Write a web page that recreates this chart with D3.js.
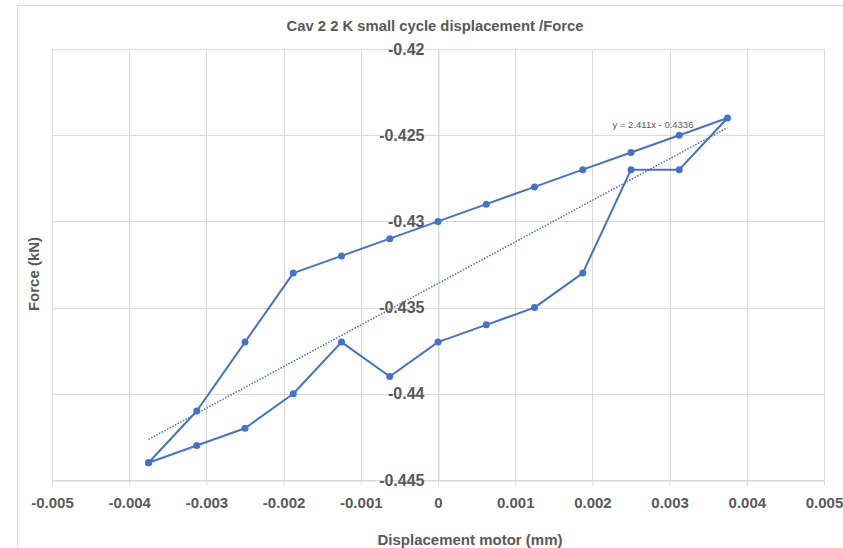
<!DOCTYPE html>
<html>
<head>
<meta charset="utf-8">
<script src="https://cdn.jsdelivr.net/npm/d3@7"></script>
<style>
  body { margin: 0; background: #fff; }
  svg { display: block; font-family: "Liberation Sans", Arial, sans-serif; }
</style>
</head>
<body>
<svg width="843" height="548"></svg>
<script>
// chart data
var displacement = [-0.00375, -0.003125, -0.0025, -0.001875, -0.00125, -0.000625, 0,
                    0.000625, 0.00125, 0.001875, 0.0025, 0.003125, 0.00375,
                    0.003125, 0.0025, 0.001875, 0.00125, 0.000625, 0,
                    -0.000625, -0.00125, -0.001875, -0.0025, -0.003125, -0.00375];
var force = [-0.444, -0.441, -0.437, -0.433, -0.432, -0.431, -0.430,
             -0.429, -0.428, -0.427, -0.426, -0.425, -0.424,
             -0.427, -0.427, -0.433, -0.435, -0.436, -0.437,
             -0.439, -0.437, -0.440, -0.442, -0.443, -0.444];
var xTicks = [-0.005, -0.004, -0.003, -0.002, -0.001, 0, 0.001, 0.002, 0.003, 0.004, 0.005];
var xTickLabels = ["-0.005", "-0.004", "-0.003", "-0.002", "-0.001", "0", "0.001", "0.002", "0.003", "0.004", "0.005"];
var yTicks = [-0.42, -0.425, -0.43, -0.435, -0.44, -0.445];
var yTickLabels = ["-0.42", "-0.425", "-0.43", "-0.435", "-0.44", "-0.445"];
var trendSlope = 2.411, trendIntercept = -0.4336;
var trendLabel = "y = 2.411x - 0.4336";

var svg = d3.select("svg");
var blue = "#4472c4", grid = "#d9d9d9", txt = "#595959";

// chart frame (runs off the right/bottom edge like the screenshot)
svg.append("rect")
   .attr("x", 17.5).attr("y", 5.5)
   .attr("width", 900).attr("height", 600)
   .attr("fill", "none").attr("stroke", grid);

var x = d3.scaleLinear().domain([-0.005, 0.005]).range([52, 824]),
    y = d3.scaleLinear().domain([-0.445, -0.42]).range([480, 49]);

// gridlines
svg.append("g").selectAll("line")
   .data(xTicks).enter().append("line")
   .attr("x1", function(d) { return Math.round(x(d)) + 0.5; })
   .attr("x2", function(d) { return Math.round(x(d)) + 0.5; })
   .attr("y1", y(-0.42)).attr("y2", y(-0.445))
   .attr("stroke", grid);
svg.append("g").selectAll("line")
   .data(yTicks).enter().append("line")
   .attr("x1", x(-0.005)).attr("x2", x(0.005))
   .attr("y1", function(d) { return Math.round(y(d)) + 0.5; })
   .attr("y2", function(d) { return Math.round(y(d)) + 0.5; })
   .attr("stroke", grid);

// x axis at the bottom
var xAxis = svg.append("g")
   .attr("transform", "translate(0," + (Math.round(y(-0.445)) + 0.5) + ")")
   .call(d3.axisBottom(x).tickValues(xTicks)
           .tickFormat(function(d, i) { return xTickLabels[i]; })
           .tickSizeInner(5).tickSizeOuter(0).tickPadding(12));
xAxis.select(".domain").attr("stroke", grid);
xAxis.selectAll(".tick line").attr("stroke", grid);
xAxis.selectAll("text")
   .attr("fill", txt).attr("font-size", 15).attr("font-weight", "bold")
   .attr("font-family", "Liberation Sans, Arial, sans-serif");

// y axis crossing at x = 0
var yAxis = svg.append("g")
   .attr("transform", "translate(" + (Math.round(x(0)) + 0.5) + ",0)")
   .call(d3.axisLeft(y).tickValues(yTicks)
           .tickFormat(function(d, i) { return yTickLabels[i]; })
           .tickSize(0).tickPadding(14));
yAxis.select(".domain").attr("stroke", grid);
yAxis.selectAll("text")
   .attr("fill", txt).attr("font-size", 16).attr("font-weight", "bold")
   .attr("font-family", "Liberation Sans, Arial, sans-serif");

// trendline
var tx = d3.extent(displacement);
svg.append("line")
   .attr("x1", x(tx[0])).attr("y1", y(trendSlope * tx[0] + trendIntercept))
   .attr("x2", x(tx[1])).attr("y2", y(trendSlope * tx[1] + trendIntercept))
   .attr("stroke", blue).attr("stroke-width", 1.5)
   .attr("stroke-dasharray", "1.5,1.5");

// series
var pts = displacement.map(function(d, i) { return [d, force[i]]; });
svg.append("path")
   .datum(pts)
   .attr("fill", "none").attr("stroke", blue).attr("stroke-width", 2)
   .attr("stroke-linejoin", "round")
   .attr("d", d3.line().x(function(d) { return x(d[0]); }).y(function(d) { return y(d[1]); }));
svg.append("g").selectAll("circle")
   .data(pts).enter().append("circle")
   .attr("cx", function(d) { return x(d[0]); })
   .attr("cy", function(d) { return y(d[1]); })
   .attr("r", 3.5).attr("fill", blue);

// trendline label
svg.append("text")
   .attr("x", 653).attr("y", 128)
   .attr("text-anchor", "middle")
   .attr("font-size", 9.5).attr("fill", txt)
   .text(trendLabel);

// title and axis titles
svg.append("text")
   .attr("x", 435).attr("y", 31)
   .attr("text-anchor", "middle")
   .attr("font-size", 14.8).attr("font-weight", "bold").attr("fill", txt)
   .text("Cav 2 2 K small cycle displacement /Force");
svg.append("text")
   .attr("x", 470).attr("y", 545)
   .attr("text-anchor", "middle")
   .attr("font-size", 15).attr("font-weight", "bold").attr("fill", txt)
   .text("Displacement motor (mm)");
svg.append("text")
   .attr("transform", "translate(39,274) rotate(-90)")
   .attr("text-anchor", "middle")
   .attr("font-size", 15).attr("font-weight", "bold").attr("fill", txt)
   .text("Force (kN)");
</script>
</body>
</html>
